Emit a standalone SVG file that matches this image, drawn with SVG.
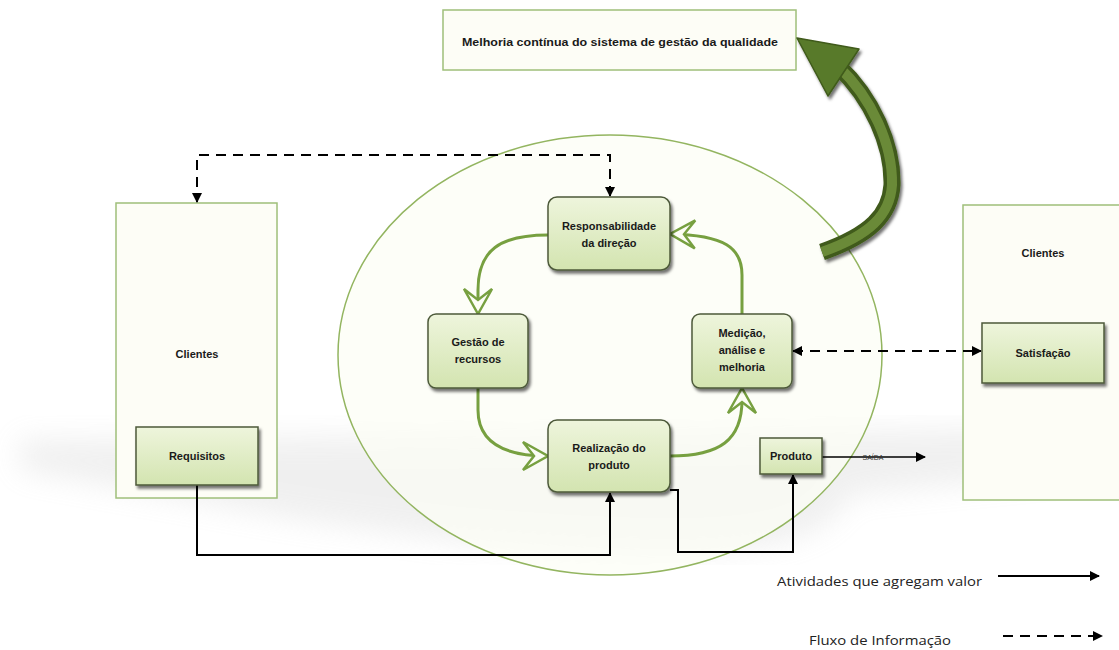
<svg xmlns="http://www.w3.org/2000/svg" width="1119" height="650" viewBox="0 0 1119 650">
<style>
.t{font-family:"Liberation Sans",Arial,sans-serif;font-weight:bold;font-size:11px;fill:#1a1a1a;text-anchor:middle}
.leg{font-family:"Open Sans","Liberation Sans",sans-serif;font-size:13px;fill:#222}
.box{fill:url(#gb);stroke:#4d5a3a;stroke-width:1.5;filter:url(#sh)}
.pane{fill:#fdfdf6;stroke:#9fbf7a;stroke-width:1.5}
.g{fill:none;stroke:#77a040;stroke-width:3}
.k{fill:none;stroke:#000;stroke-width:2}
.d{fill:none;stroke:#000;stroke-width:2;stroke-dasharray:10,7}
</style>
<defs>
<linearGradient id="gb" x1="0" y1="0" x2="0" y2="1">
<stop offset="0" stop-color="#eef5dc"/><stop offset="1" stop-color="#d3e4b0"/>
</linearGradient>
<filter id="sh" x="-20%" y="-20%" width="150%" height="150%">
<feDropShadow dx="2" dy="3" stdDeviation="1.5" flood-color="#000" flood-opacity="0.55"/>
</filter>
<filter id="blur"><feGaussianBlur stdDeviation="14"/></filter>
<marker id="ah" markerWidth="10" markerHeight="10" refX="9" refY="5" orient="auto" markerUnits="userSpaceOnUse">
<path d="M0,0 L10,5 L0,10 z" fill="#000"/>
</marker>
<marker id="ahs" markerWidth="10" markerHeight="10" refX="1" refY="5" orient="auto" markerUnits="userSpaceOnUse">
<path d="M10,0 L0,5 L10,10 z" fill="#000"/>
</marker>
<marker id="oh" markerWidth="34" markerHeight="34" refX="28" refY="17" orient="auto" markerUnits="userSpaceOnUse">
<path d="M3,3 L28,17 L3,31 L14,17 z" fill="#fcfdf5" stroke="#77a040" stroke-width="2.5" stroke-linejoin="miter"/>
</marker>
</defs>
<rect width="1119" height="650" fill="#fff"/>
<g id="shadow" opacity="0.22">
<path d="M20,440 L1100,428 L1100,470 L850,495 C820,560 700,560 450,540 L300,520 L20,470 z" fill="#bbbbbb" filter="url(#blur)"/>
</g>
<g id="ellipse"><ellipse cx="610" cy="355" rx="272" ry="220" fill="#fcfdf5" fill-opacity="0.7" stroke="#93b560" stroke-width="1.5"/></g>
<g id="top"><rect x="443" y="10" width="353" height="60" class="pane"/>
<text x="620" y="46" class="t" textLength="316" lengthAdjust="spacingAndGlyphs">Melhoria contínua do sistema de gestão da qualidade</text></g>
<g id="bigarrow" filter="url(#sh)">
<path d="M838,66 C872,98 893,145 892,185 C890,215 870,235 822,252" fill="none" stroke="#3f5a1a" stroke-width="17" stroke-linecap="butt"/>
<path d="M838,66 C872,98 893,145 892,185 C890,215 870,235 822,252" fill="none" stroke="#6b8a37" stroke-width="10"/>
<path d="M797,38 L859,49 L828,96 z" fill="#587a2a" stroke="#3f5a1a" stroke-width="1.5" stroke-linejoin="round"/>
</g>
<g id="clientesL"><rect x="116" y="203" width="161" height="295" class="pane"/><text x="197" y="358" class="t">Clientes</text></g>
<g id="clientesR"><rect x="963" y="205" width="160" height="295" class="pane"/><text x="1043" y="257" class="t">Clientes</text></g>
<g id="connectors">
<path class="g" d="M548,235 C500,235 478,250 478,290 L478,314" marker-end="url(#oh)"/>
<path class="g" d="M478,388 L478,410 C478,440 500,456 548,456" marker-end="url(#oh)"/>
<path class="g" d="M670,456 C720,456 742,440 742,400 L742,388" marker-end="url(#oh)"/>
<path class="g" d="M742,314 L742,275 C742,248 725,235 670,234" marker-end="url(#oh)"/>
<path class="k" d="M197,485 L197,555 L610,555 L610,493" marker-end="url(#ah)"/>
<path class="k" d="M670,490 L678,490 L678,552 L793,552 L793,475" marker-end="url(#ah)"/>
<path class="d" d="M610,196 L610,155 L197,155 L197,202" marker-end="url(#ah)" marker-start="url(#ahs)"/>
<path class="d" d="M793,351 L981,351" marker-end="url(#ah)" marker-start="url(#ahs)"/>
<path d="M822,457 L925,457" stroke="#000" stroke-width="1.5" fill="none" marker-end="url(#ah)"/>
<text x="873" y="460" font-family="Liberation Sans,sans-serif" font-size="7" fill="#333" text-anchor="middle">SAÍDA</text>
</g>
<g id="requisitos"><rect x="136" y="427" width="122" height="58" class="box"/><text x="197" y="460" class="t">Requisitos</text></g>
<g id="satisfacao"><rect x="982" y="323" width="122" height="60" class="box"/><text x="1043" y="357" class="t">Satisfação</text></g>
<g id="resp"><rect x="548" y="197" width="122" height="73" rx="9" class="box"/><text x="609" y="230" class="t">Responsabilidade</text><text x="609" y="247" class="t">da direção</text></g>
<g id="gestao"><rect x="428" y="314" width="100" height="74" rx="8" class="box"/><text x="478" y="346" class="t">Gestão de</text><text x="478" y="363" class="t">recursos</text></g>
<g id="medicao"><rect x="692" y="314" width="100" height="74" rx="8" class="box"/><text x="742" y="337" class="t">Medição,</text><text x="742" y="354" class="t">análise e</text><text x="742" y="371" class="t">melhoria</text></g>
<g id="realizacao"><rect x="548" y="420" width="122" height="72" rx="9" class="box"/><text x="609" y="452" class="t">Realização do</text><text x="609" y="469" class="t">produto</text></g>
<g id="produto"><rect x="760" y="438" width="62" height="36" class="box"/><text x="791" y="460" class="t">Produto</text></g>
<g id="legend">
<text x="777" y="586" class="leg" textLength="205" lengthAdjust="spacingAndGlyphs">Atividades que agregam valor</text>
<path class="k" d="M998,576 L1099,576" marker-end="url(#ah)"/>
<text x="809" y="645" class="leg" textLength="142" lengthAdjust="spacingAndGlyphs">Fluxo de Informação</text>
<path class="d" d="M1003,636 L1102,636" marker-end="url(#ah)"/>
</g>
</svg>
